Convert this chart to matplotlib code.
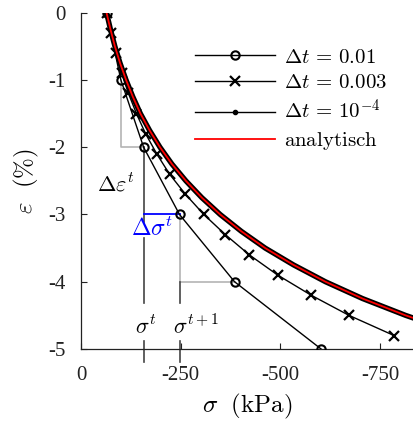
import matplotlib
matplotlib.use("Agg")
import matplotlib.pyplot as plt
from matplotlib.lines import Line2D

plt.rcParams['mathtext.fontset'] = 'cm'
plt.rcParams['font.family'] = ['Liberation Serif', 'DejaVu Serif']

# Δt = 0.01 (circles)
eps_01 = [0, -1, -2, -3, -4, -5]
sig_01 = [-64, -100, -157, -247, -385, -602]

# Δt = 0.003 (crosses)
eps_003 = [0, -0.3, -0.6, -0.9, -1.2, -1.5, -1.8, -2.1, -2.4, -2.7, -3.0,
           -3.3, -3.6, -3.9, -4.2, -4.5, -4.8]
sig_003 = [-64, -75, -87, -102, -119, -139, -162, -190, -222, -262, -308,
           -362, -422, -493, -577, -672, -785]

# Δt = 1e-4 (dense dots) and analytic curve
eps_fine = [0, -0.25, -0.5, -0.75, -1.0, -1.25, -1.5, -1.75, -2.0, -2.25, -2.5,
            -2.75, -3.0, -3.25, -3.5, -3.75, -4.0, -4.25, -4.5, -4.75, -5.0]
sig_1e4 = [-64, -74, -85, -98, -113, -130, -149, -172, -198, -228, -263,
           -303, -349, -402, -462, -533, -613, -706, -814, -937, -1079]
sig_ana = [-64, -74, -85, -98, -113, -130, -149, -172, -198, -228, -263,
           -303, -349, -402, -462, -533, -613, -706, -814, -937, -1079]

xticks = [0, -250, -500, -750]
xticklabels = ['0', '-250', '-500', '-750']
yticks = [0, -1, -2, -3, -4, -5]
yticklabels = ['0', '-1', '-2', '-3', '-4', '-5']

fig = plt.figure(figsize=(4.14, 4.25), dpi=100)
ax = fig.add_axes([81/414, 1-349/425, 1-81/414, (349-12.7)/425])

ax.plot(sig_1e4, eps_fine, color='black', lw=3.8, solid_capstyle='round', zorder=3)
ax.plot(sig_ana, eps_fine, color='red', lw=1.3, zorder=4)
ax.plot(sig_003, eps_003, color='black', lw=1.0, marker='x', ms=7, mew=1.6, zorder=3)
ax.plot(sig_01, eps_01, color='black', lw=1.0, marker='o', ms=6, mew=1.5,
        mfc='none', zorder=3)

gray = '#b4b4b4'
dark = '#444444'
# gray step triangles
ax.plot([sig_01[1], sig_01[1], sig_01[2]], [eps_01[1], eps_01[2], eps_01[2]],
        color=gray, lw=1.2, zorder=2)
ax.plot([sig_01[3], sig_01[3], sig_01[4]], [eps_01[3], eps_01[4], eps_01[4]],
        color=gray, lw=1.2, zorder=2)
# dark vertical at sigma^t
ax.plot([sig_01[2], sig_01[2]], [eps_01[2], -3.11], color=dark, lw=1.2, zorder=2)
ax.plot([sig_01[2], sig_01[2]], [-3.35, -4.31], color=dark, lw=1.2, zorder=2)
ax.plot([sig_01[2], sig_01[2]], [-4.88, -5.19], color=dark, lw=1.2, zorder=2, clip_on=False)
# dark vertical at sigma^{t+1}
ax.plot([sig_01[3], sig_01[3]], [eps_01[4], -4.31], color=dark, lw=1.2, zorder=2)
ax.plot([sig_01[3], sig_01[3]], [-4.88, -5.19], color=dark, lw=1.2, zorder=2, clip_on=False)
# blue delta sigma
ax.plot([sig_01[2], sig_01[3]], [eps_01[3], eps_01[3]], color='blue', lw=1.3, zorder=2)

ax.text(-135, -2.56, r'$\Delta\varepsilon^t$', fontsize=16, ha='right', va='center')
ax.text(-179, -3.22, r'$\Delta\sigma^t$', fontsize=17, ha='center', va='center', color='blue')
ax.text(-135, -4.67, r'$\sigma^t$', fontsize=16, ha='left', va='center')
ax.text(-230, -4.67, r'$\sigma^{t+1}$', fontsize=16, ha='left', va='center')

ax.set_xlim(0, -835)
ax.set_ylim(-5, 0)
ax.set_xticks(xticks)
ax.set_xticklabels(xticklabels)
ax.set_yticks(yticks)
ax.set_yticklabels(yticklabels)
ax.tick_params(direction='in', length=4, width=0.8, labelsize=15, colors='#222222')
ax.tick_params(axis='x', pad=12)
ax.tick_params(axis='y', pad=11)
for s in ['top', 'right']:
    ax.spines[s].set_visible(False)
for s in ['left', 'bottom']:
    ax.spines[s].set_linewidth(0.9)
    ax.spines[s].set_color('#222222')

ax.set_xlabel(r'$\sigma\ \ (\mathrm{kPa})$', fontsize=18, labelpad=5)
ax.set_ylabel(r'$\varepsilon\ \ (\%)$', fontsize=18, labelpad=5)

handles = [
    Line2D([], [], color='black', lw=1.0, marker='o', ms=6, mew=1.5, mfc='none'),
    Line2D([], [], color='black', lw=1.0, marker='x', ms=7, mew=1.6),
    Line2D([], [], color='black', lw=1.0, marker='.', ms=6),
    Line2D([], [], color='red', lw=1.3),
]
labels = [r'$\Delta t\,=\,0.01$', r'$\Delta t\,=\,0.003$', r'$\Delta t\,=\,10^{-4}$',
          r'$\mathrm{analytisch}$']
fig.legend(handles, labels, loc='upper left', bbox_to_anchor=(195/414, 1-48/425),
           frameon=False, fontsize=15, handlelength=3.85, handletextpad=0.4,
           borderpad=0, borderaxespad=0, labelspacing=0.3, numpoints=1)

fig.savefig('out.png', dpi=100)
